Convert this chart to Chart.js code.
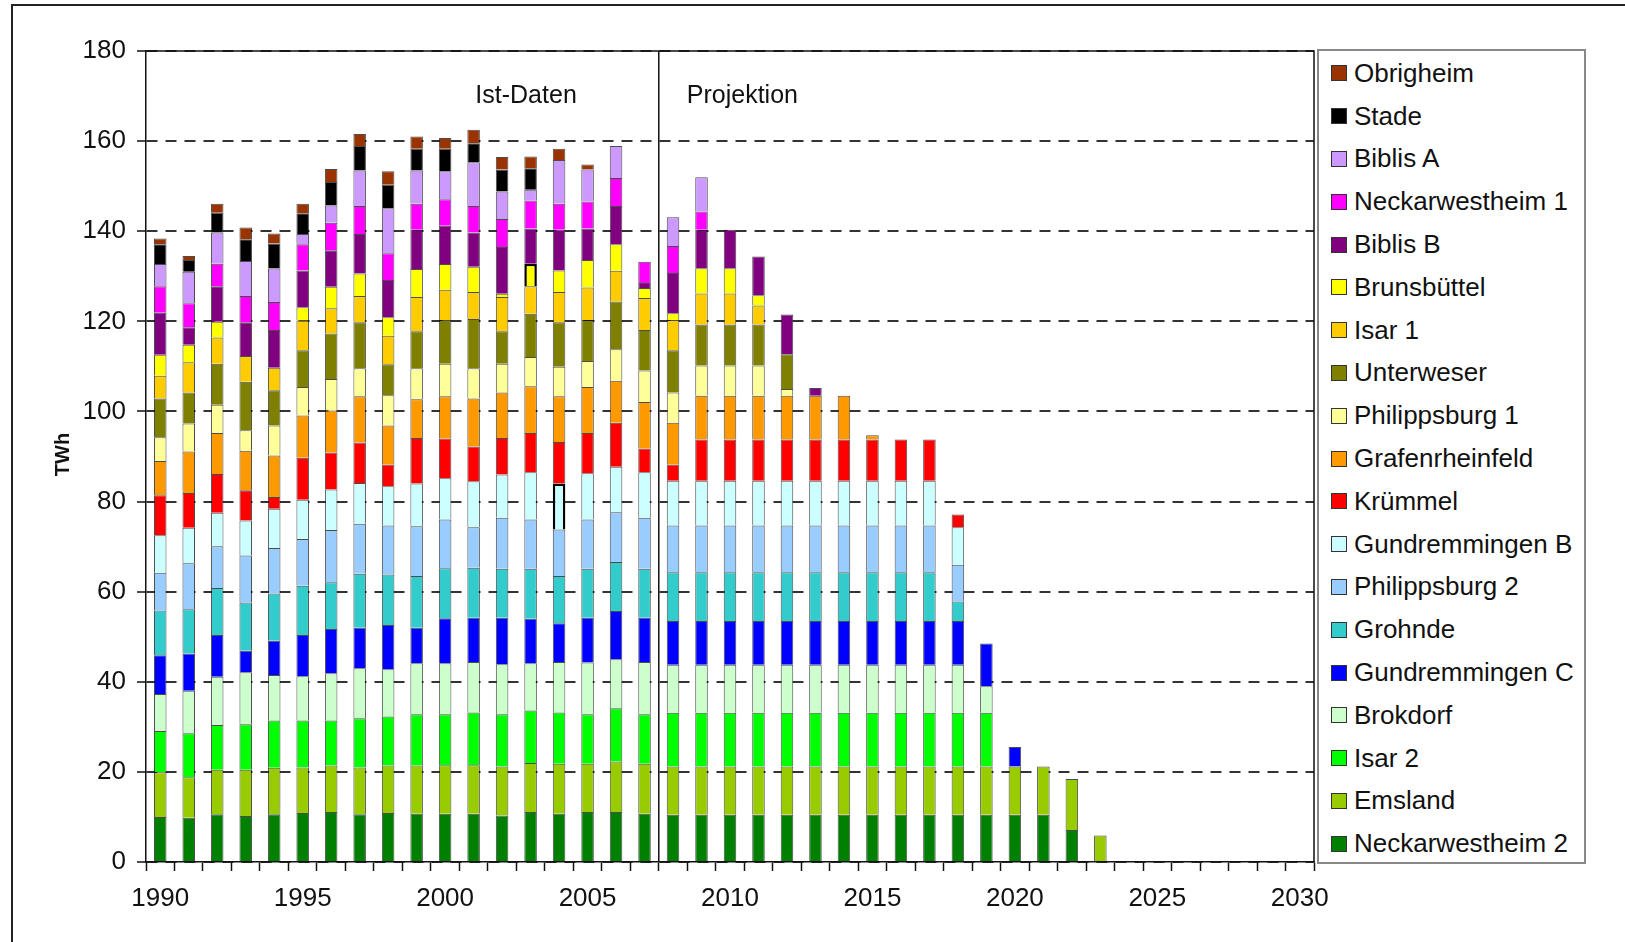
<!DOCTYPE html>
<html lang="de">
<head>
<meta charset="UTF-8">
<title>Kernkraftwerke – Stromerzeugung</title>
<script src="https://cdn.jsdelivr.net/npm/chart.js"></script>
<style>
  html, body { margin: 0; overflow: hidden; background: #fff; font-family: "Liberation Sans", Arial, sans-serif; }
  #frame { position: absolute; left: 11px; top: 4px; width: 1700px; height: 1000px; border: 2px solid #222; }
  #chart { position: absolute; left: 0; top: 0; }
  #legend { position: absolute; left: 1317px; top: 49px; width: 269px; height: 815px; border: 2px solid #888;
            box-sizing: border-box; padding-top: 1px; background: #fff; }
  .item { height: 42.8px; display: flex; align-items: center; font-size: 26px; color: #111; white-space: nowrap; }
  .item .box { width: 16px; height: 16px; box-sizing: border-box; border: 1px solid #333; margin-left: 12px; margin-right: 7px; flex: none; }
</style>
</head>
<body>
<div id="frame"></div>
<canvas id="chart" width="1625" height="942"></canvas>
<div id="legend"></div>

<script>
// x axis categories
const years = [1990, 1991, 1992, 1993, 1994, 1995, 1996, 1997, 1998, 1999,
               2000, 2001, 2002, 2003, 2004, 2005, 2006, 2007, 2008, 2009,
               2010, 2011, 2012, 2013, 2014, 2015, 2016, 2017, 2018, 2019,
               2020, 2021, 2022, 2023, 2024, 2025, 2026, 2027, 2028, 2029, 2030];

// TWh per plant, from 1990 on (bottom of the stack first)
const neckarwestheim2 = [10.0, 9.8, 10.6, 10.2, 10.6, 10.9, 11.1, 10.6, 10.9, 10.7, 10.7, 10.7, 10.3, 11.1, 10.7, 11.1, 11.1, 10.7,
                         10.5, 10.5, 10.5, 10.5, 10.5, 10.5, 10.5, 10.5, 10.5, 10.5, 10.5, 10.5, 10.5, 10.5, 7.1, null];
const emsland = [9.9, 9.0, 9.9, 10.3, 10.3, 10.1, 10.3, 10.4, 10.5, 10.7, 10.8, 10.8, 10.9, 10.9, 11.1, 10.7, 11.2, 11.1,
                 10.7, 10.7, 10.7, 10.7, 10.7, 10.7, 10.7, 10.7, 10.7, 10.7, 10.7, 10.7, 10.7, 10.7, 11.3, 5.9];
const isar2 = [9.2, 9.8, 9.9, 10.1, 10.5, 10.4, 10.0, 10.9, 10.9, 11.4, 11.3, 11.7, 11.6, 11.6, 11.4, 11.0, 11.8, 11.0,
               11.9, 11.9, 11.9, 11.9, 11.9, 11.9, 11.9, 11.9, 11.9, 11.9, 11.9, 11.9];
const brokdorf = [8.2, 9.4, 10.7, 11.5, 10.1, 9.8, 10.5, 11.1, 10.5, 11.3, 11.3, 11.2, 11.1, 10.5, 11.2, 11.5, 10.9, 11.6,
                  10.7, 10.7, 10.7, 10.7, 10.7, 10.7, 10.7, 10.7, 10.7, 10.7, 10.7, 5.9];
const gundremmingenC = [8.6, 8.3, 9.3, 4.8, 7.6, 9.2, 9.8, 9.0, 9.8, 7.9, 10.0, 9.8, 10.3, 9.9, 8.6, 9.9, 10.7, 9.8,
                        9.7, 9.7, 9.7, 9.7, 9.7, 9.7, 9.7, 9.7, 9.7, 9.7, 9.7, 9.5, 4.3];
const grohnde = [9.9, 9.8, 10.4, 10.7, 10.5, 10.9, 10.4, 12.0, 11.2, 11.5, 11.1, 11.1, 10.9, 11.1, 10.5, 10.9, 10.9, 10.9,
                 10.8, 10.8, 10.8, 10.8, 10.8, 10.8, 10.8, 10.8, 10.8, 10.8, 4.3];
const philippsburg2 = [8.4, 10.2, 9.3, 10.4, 10.1, 10.4, 11.6, 11.1, 10.9, 11.0, 10.8, 9.0, 11.3, 10.9, 10.3, 10.9, 11.0, 11.3,
                       10.4, 10.4, 10.4, 10.4, 10.4, 10.4, 10.4, 10.4, 10.4, 10.4, 8.2];
const gundremmingenB = [8.3, 7.9, 7.4, 7.8, 8.7, 8.7, 9.0, 9.0, 8.7, 9.5, 9.2, 10.2, 9.6, 10.5, 10.2, 10.3, 10.1, 10.1,
                        9.9, 9.9, 9.9, 9.9, 9.9, 9.9, 9.9, 9.9, 9.9, 9.9, 8.3];
const kruemmel = [8.9, 7.7, 8.6, 6.7, 2.6, 9.3, 8.2, 9.0, 4.8, 10.1, 8.8, 7.7, 8.1, 8.7, 9.2, 8.9, 9.8, 5.3,
                  3.6, 9.2, 9.2, 9.2, 9.2, 9.2, 9.2, 9.2, 9.2, 9.2, 2.8];
const grafenrheinfeld = [7.6, 9.2, 9.1, 8.8, 9.2, 9.4, 9.3, 10.3, 8.7, 8.6, 9.4, 10.7, 10.1, 10.4, 10.2, 10.2, 9.3, 10.3,
                         9.3, 9.7, 9.7, 9.7, 9.7, 9.7, 9.7, 0.9];
const philippsburg1 = [5.3, 6.2, 6.3, 4.5, 6.7, 6.3, 7.0, 6.2, 6.7, 6.9, 7.2, 6.7, 6.4, 6.5, 6.5, 5.8, 7.0, 7.0,
                       6.7, 6.7, 6.7, 6.7, 1.5];
const unterweser = [8.6, 6.9, 9.1, 10.8, 7.8, 8.2, 10.1, 10.2, 6.9, 8.2, 9.7, 10.9, 7.2, 9.6, 9.9, 9.1, 10.6, 9.0,
                    9.4, 9.1, 9.1, 9.1, 7.7];
const isar1 = [5.0, 6.7, 5.8, 5.7, 5.0, 6.6, 5.6, 5.8, 6.3, 7.6, 6.7, 6.0, 7.6, 6.1, 6.7, 7.2, 6.8, 7.1,
               6.7, 6.9, 6.9, 4.2];
const brunsbuettel = [4.7, 3.9, 3.5, null, null, 2.9, 4.8, 5.0, 4.1, 6.2, 5.7, 5.6, 0.7, 5.0, 4.8, 6.1, 5.9, 2.2,
                      1.5, 5.6, 5.6, 2.3];
const biblisB = [9.3, 3.9, 7.9, 7.5, 8.4, 8.2, 8.1, 8.8, 8.3, 8.7, 8.5, 7.6, 10.4, 7.8, 9.0, 7.0, 8.5, 1.1,
                 8.9, 8.5, 8.5, 8.6, 8.8, 1.7];
const neckarwestheim1 = [5.9, 5.3, 5.0, 5.8, 6.2, 5.8, 6.1, 6.2, 5.9, 5.8, 5.9, 5.9, 6.2, 6.2, 5.8, 6.0, 6.2, 4.7,
                         6.0, 4.1];
const biblisA = [4.9, 7.0, 6.9, 7.8, 7.4, 2.3, 3.8, 7.9, 10.0, 7.4, 6.2, 9.7, 6.1, 2.4, 9.7, 7.1, 7.1, null,
                 6.4, 7.6];
const stade = [4.4, 2.6, 4.4, 4.8, 5.6, 4.6, 5.2, 5.4, 5.2, 4.8, 5.0, 4.2, 4.9, 4.8];
const obrigheim = [1.3, 0.9, 2.0, 2.6, 2.2, 2.1, 2.9, 2.7, 3.0, 2.7, 2.4, 3.0, 2.8, 2.6, 2.5, 1.1];

const plants = ['Neckarwestheim 2', 'Emsland', 'Isar 2', 'Brokdorf', 'Gundremmingen C', 'Grohnde',
                'Philippsburg 2', 'Gundremmingen B', 'Krümmel', 'Grafenrheinfeld', 'Philippsburg 1',
                'Unterweser', 'Isar 1', 'Brunsbüttel', 'Biblis B', 'Neckarwestheim 1', 'Biblis A', 'Stade', 'Obrigheim'];
const series = [neckarwestheim2, emsland, isar2, brokdorf, gundremmingenC, grohnde, philippsburg2, gundremmingenB,
                kruemmel, grafenrheinfeld, philippsburg1, unterweser, isar1, brunsbuettel, biblisB,
                neckarwestheim1, biblisA, stade, obrigheim];
const colours = ['#008000', '#99CC00', '#00FF00', '#CCFFCC', '#0000FF', '#33CCCC', '#99CCFF', '#CCFFFF', '#FF0000',
                 '#FF9900', '#FFFF99', '#808000', '#FFCC00', '#FFFF00', '#800080', '#FF00FF', '#CC99FF', '#000000', '#993300'];

// the two segments drawn with a heavy outline in the original: [dataset, year index]
const marked = [[13, 13], [7, 14]];
const isMarked = (ds, i) => marked.some(m => m[0] === ds && m[1] === i);

const family = '"Liberation Sans", Arial, sans-serif';

const frame = {
    id: 'frame',
    afterDatasetsDraw(chart) {
        const {ctx, chartArea: a, scales: {x}} = chart;
        const xd = (x.getPixelForValue(17) + x.getPixelForValue(18)) / 2;
        ctx.save();
        ctx.strokeStyle = '#111';
        ctx.lineWidth = 1.5;
        ctx.beginPath();
        ctx.moveTo(a.left, a.top);
        ctx.lineTo(a.right, a.top);
        ctx.lineTo(a.right, a.bottom);
        ctx.moveTo(xd, a.top);
        ctx.lineTo(xd, a.bottom);
        ctx.stroke();

        ctx.fillStyle = '#111';
        ctx.textBaseline = 'middle';
        ctx.font = '25px ' + family;
        ctx.textAlign = 'right';
        ctx.fillText('Ist-Daten', xd - 82, a.top + 45);
        ctx.textAlign = 'left';
        ctx.fillText('Projektion', xd + 28, a.top + 45);

        ctx.translate(63, (a.top + a.bottom) / 2 - 2);
        ctx.rotate(-Math.PI / 2);
        ctx.font = 'bold 20px Arial, sans-serif';
        ctx.textAlign = 'center';
        ctx.fillText('TWh', 0, 0);
        ctx.restore();
    }
};

new Chart(document.getElementById('chart'), {
    type: 'bar',
    data: {
        labels: years,
        datasets: plants.map((name, i) => ({
            label: name,
            data: series[i],
            backgroundColor: colours[i],
            borderColor: c => isMarked(i, c.dataIndex) ? '#000' : 'rgba(0,0,0,0.7)',
            borderWidth: c => isMarked(i, c.dataIndex) ? 2.5 : 1,
            categoryPercentage: 1,
            barPercentage: 0.44
        }))
    },
    options: {
        responsive: false,
        animation: false,
        devicePixelRatio: 1,
        layout: { padding: { top: 51, right: 311, bottom: 0, left: 0 } },
        plugins: { legend: { display: false }, tooltip: { enabled: false } },
        scales: {
            x: {
                stacked: true,
                offset: true,
                grid: { offset: true, drawOnChartArea: false, tickLength: 9, tickColor: '#111', tickWidth: 1.5 },
                border: { color: '#111', width: 1.5 },
                ticks: {
                    autoSkip: false, maxRotation: 0, padding: 12, color: '#111',
                    font: { size: 26, family: family },
                    callback: (v, i) => years[i] % 5 === 0 ? String(years[i]) : ''
                },
                afterFit: s => { s.height = 80; }
            },
            y: {
                stacked: true,
                min: 0,
                max: 180,
                ticks: { stepSize: 20, padding: 11, color: '#111', font: { size: 26, family: family } },
                grid: { color: '#333', lineWidth: 2, tickLength: 9, tickColor: '#111', tickWidth: 1.5 },
                border: { color: '#111', width: 1.5, dash: [11, 8] },
                afterFit: s => { s.width = 146; }
            }
        }
    },
    plugins: [frame]
});

// legend, top entry = top of the stack
const legend = document.getElementById('legend');
for (let i = plants.length - 1; i >= 0; i--) {
    const row = document.createElement('div');
    row.className = 'item';
    const box = document.createElement('span');
    box.className = 'box';
    box.style.background = colours[i];
    row.appendChild(box);
    row.appendChild(document.createTextNode(plants[i]));
    legend.appendChild(row);
}
</script>
</body>
</html>
